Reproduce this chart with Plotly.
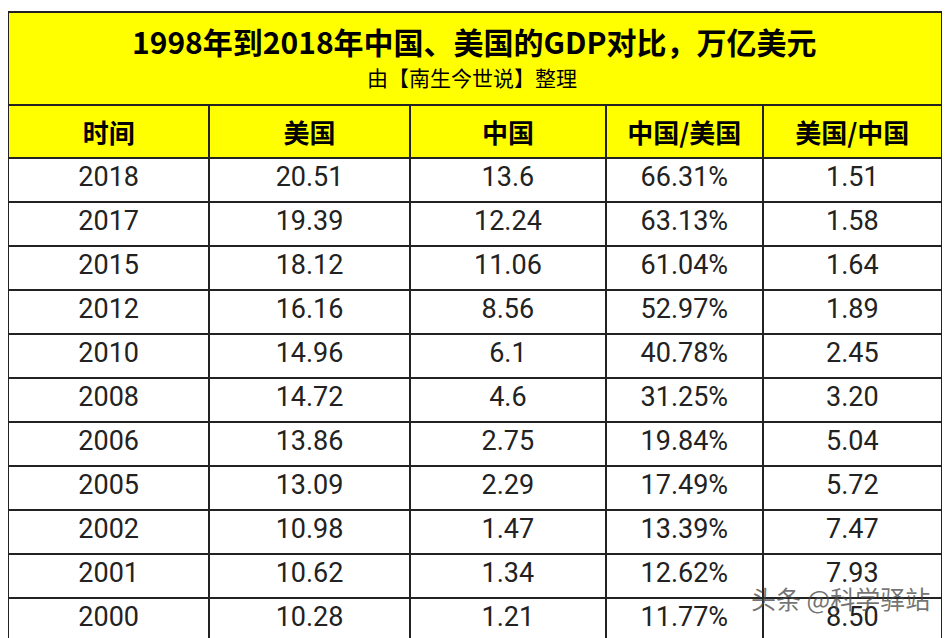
import plotly.graph_objects as go

years = ["2018","2017","2015","2012","2010","2008","2006","2005","2002","2001","2000"]
usa = ["20.51","19.39","18.12","16.16","14.96","14.72","13.86","13.09","10.98","10.62","10.28"]
china = ["13.6","12.24","11.06","8.56","6.1","4.6","2.75","2.29","1.47","1.34","1.21"]
cn_us = ["66.31%","63.13%","61.04%","52.97%","40.78%","31.25%","19.84%","17.49%","13.39%","12.62%","11.77%"]
us_cn = ["1.51","1.58","1.64","1.89","2.45","3.20","5.04","5.72","7.47","7.93","8.50"]
headers = ["时间","美国","中国","中国/美国","美国/中国"]

OFF = 8  # page body margin
W, H = 950 - OFF, 638 - OFF
def px(x): return max(x - OFF, 0) / W
def py(y): return 1 - (y - OFF) / H
x0, x1 = 5, 942
top = 110
FONT = "Noto Sans CJK SC"

fig = go.Figure(go.Table(
    domain=dict(x=[px(x0), px(x1)], y=[0, py(top - 5)]),
    columnwidth=[202, 201, 197, 157, 180],
    header=dict(values=[f"<b>{h}</b>" for h in headers], fill_color="#FFFF00",
                line=dict(color="#222222", width=2), height=43, align="center",
                font=dict(family=FONT, size=26, color="black")),
    cells=dict(values=[years, usa, china, cn_us, us_cn], fill_color="white",
               line=dict(color="#222222", width=2), height=44, align="center",
               font=dict(family="Roboto, " + FONT, size=27, color="#222222")),
))
fig.add_shape(type="rect", xref="paper", yref="paper",
              x0=px(x0), x1=px(x1), y0=py(top), y1=py(12),
              fillcolor="#FFFF00", line=dict(color="#222222", width=2), layer="below")
fig.add_annotation(text="<b>1998年到2018年中国、美国的GDP对比，万亿美元</b>", xref="paper", yref="paper",
                   x=px(474), y=py(41), yanchor="middle", showarrow=False,
                   font=dict(family=FONT, size=30, color="black"))
fig.add_annotation(text="由【南生今世说】整理", xref="paper", yref="paper",
                   x=px(472), y=py(77), yanchor="middle", showarrow=False,
                   font=dict(family=FONT, size=21, color="black"))
fig.add_annotation(text="头条 @科学驿站", xref="paper", yref="paper",
                   x=px(932), xanchor="right", y=py(598), yanchor="middle", showarrow=False,
                   font=dict(family=FONT, size=25, color="rgba(70,70,70,0.75)"))
fig.update_layout(width=W, height=H, margin=dict(l=0, r=0, t=0, b=0),
                  paper_bgcolor="white", plot_bgcolor="white")
fig.write_html("out.html")
